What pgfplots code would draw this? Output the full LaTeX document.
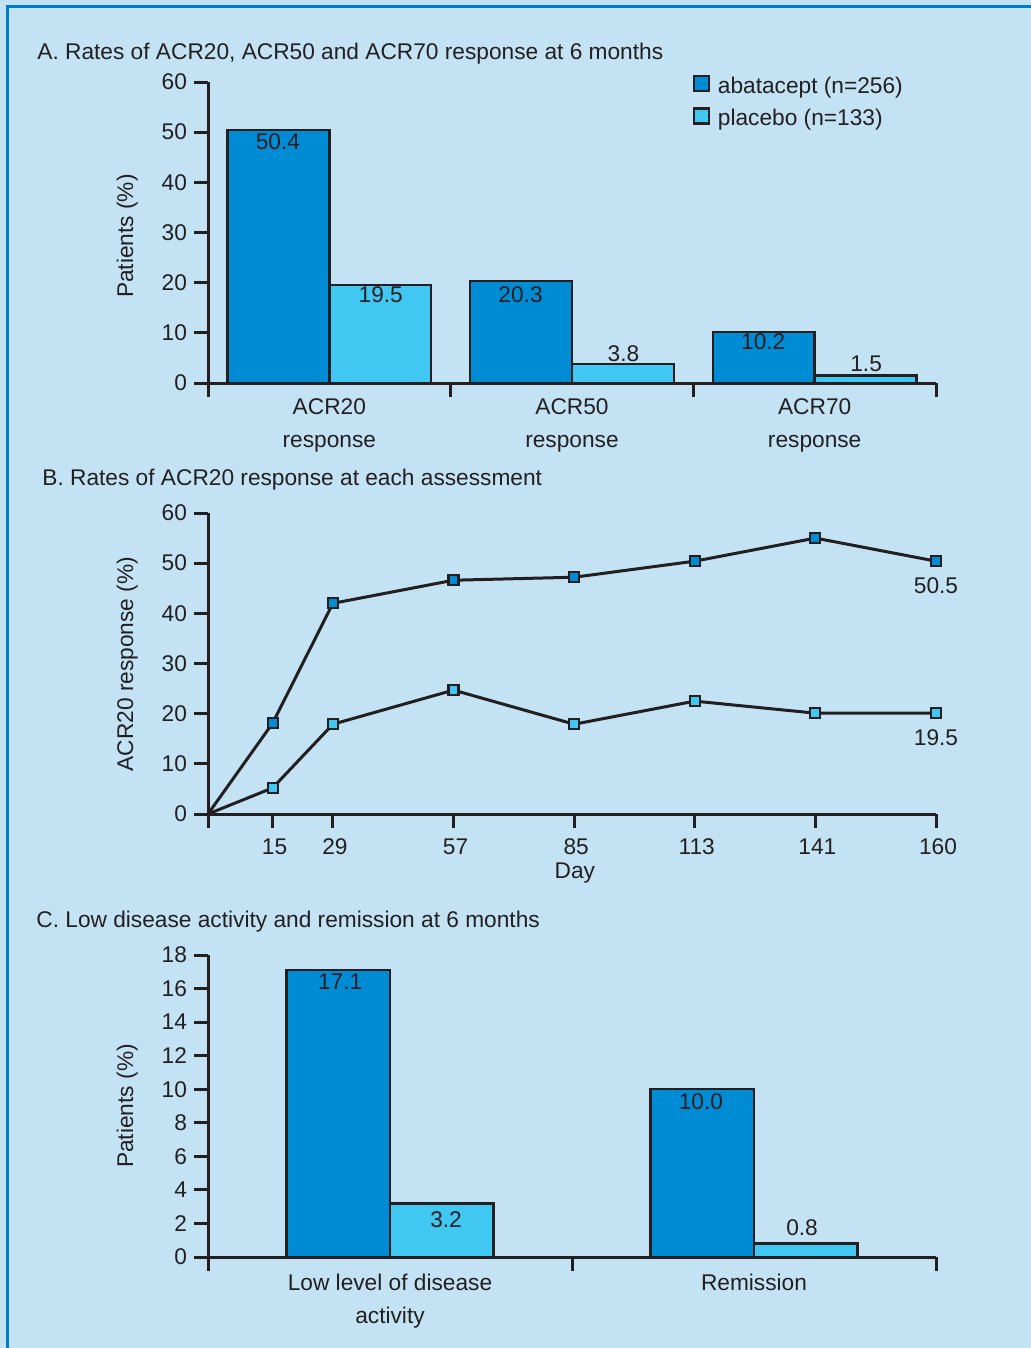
\documentclass[border=0pt]{standalone}
\usepackage{pgfplots}
\pgfplotsset{compat=1.18}
\usepackage{fontspec}
\setmainfont{Liberation Sans}
\definecolor{bg}{RGB}{195,227,245}
\definecolor{dark}{RGB}{0,140,212}
\definecolor{light}{RGB}{64,200,242}
\definecolor{txt}{RGB}{35,31,32}
\definecolor{framec}{RGB}{0,125,200}
\newcommand\fs{\fontsize{11.35}{16.5}\selectfont}
\pgfplotsset{
 panel/.style={
  scale only axis, width=364pt, height=150.5pt,
  axis x line*=bottom, axis y line*=left,
  enlargelimits=false, clip=false,
  axis line style={txt, line width=1.5pt},
  tick style={txt, line width=1.5pt},
  tick align=outside, major tick length=7pt,
  /pgf/number format/assume math mode=true,
  ticklabel style={font=\fs, text=txt},
  label style={font=\fs, text=txt},
  ylabel style={anchor=center},
 },
 barstyle/.style={draw=txt, line width=1.2pt},
}
\begin{document}
\begin{tikzpicture}
\fill[bg] (0,0) rectangle (515.5pt,-674pt);
\draw[framec, line width=1.5pt] (3.75pt,-674pt) -- (3.75pt,-3.25pt) -- (515.5pt,-3.25pt);
\node[anchor=base west, font=\fs, text=txt, inner sep=0pt] at (18.5pt,-29.8pt) {A. Rates of ACR20, ACR50 and ACR70 response at 6 months};
\node[anchor=base west, font=\fs, text=txt, inner sep=0pt] at (21pt,-242.5pt) {B. Rates of ACR20 response at each assessment};
\node[anchor=base west, font=\fs, text=txt, inner sep=0pt] at (18pt,-463.5pt) {C. Low disease activity and remission at 6 months};

% Panel A
\begin{axis}[panel, at={(104pt,-191.5pt)}, anchor=south west,
  xmin=0, xmax=3, ymin=0, ymax=60, ytick={0,10,...,60},
  xtick={0,1,2,3}, x tick label as interval,
  xticklabels={{ACR20\\response},{ACR50\\response},{ACR70\\response}},
  xticklabel style={align=center, yshift=2.5pt},
  ylabel={Patients (\%)},
  ylabel style={at={(axis description cs:-0.111,0.488)}},
  ybar, bar width=0.42,
  legend style={at={(axis description cs:0.665,1.032)}, anchor=north west,
    draw=none, fill=none, inner sep=0pt, font=\fs, text=txt, row sep=2.5pt, column sep=2pt},
  legend cell align=left]
\addplot[barstyle, fill=dark, bar shift=-0.21, forget plot] coordinates {(0.5,50.4) (1.5,20.3) (2.5,10.2)};
\addplot[barstyle, fill=light, bar shift=0.21, forget plot] coordinates {(0.5,19.5) (1.5,3.8) (2.5,1.5)};
\addlegendimage{legend image code/.code={\draw[draw=txt,fill=dark,line width=1.2pt] (0pt,-2.2pt) rectangle (7.5pt,5.3pt);}}
\addlegendentry{abatacept (n=256)}
\addlegendimage{legend image code/.code={\draw[draw=txt,fill=light,line width=1.2pt] (0pt,-2.2pt) rectangle (7.5pt,5.3pt);}}
\addlegendentry{placebo (n=133)}
\begin{scope}[every node/.style={font=\fs, text=txt}]
\node at (axis cs:0.288,48.04) {50.4};
\node at (axis cs:0.712,17.54) {19.5};
\node at (axis cs:1.288,17.54) {20.3};
\node at (axis cs:1.712,5.78) {3.8};
\node at (axis cs:2.288,8.17) {10.2};
\node at (axis cs:2.712,3.79) {1.5};
\end{scope}
\end{axis}

% Panel B
\begin{axis}[panel, at={(104pt,-407pt)}, anchor=south west,
  xmin=0, xmax=169, ymin=0, ymax=60, ytick={0,10,...,60},
  xtick={0,15,29,57,85,113,141,169},
  xticklabels={,15,29,57,85,113,141,160},
  xticklabel style={yshift=-2pt, xshift=1pt},
  xlabel={Day},
  xlabel style={at={(axis description cs:0.504,-0.196)}, anchor=center},
  ylabel={ACR20 response (\%)},
  ylabel style={at={(axis description cs:-0.111,0.498)}}]
\addplot[txt, line width=1.5pt, mark=square*, mark size=2.5pt, mark indices={2,...,8},
  mark options={fill=dark, draw=txt, line width=1.1pt}]
  coordinates {(0,0) (15,18.1) (29,42.0) (57,46.6) (85,47.2) (113,50.4) (141,55.0) (169,50.4)};
\addplot[txt, line width=1.5pt, mark=square*, mark size=2.5pt, mark indices={2,...,8},
  mark options={fill=light, draw=txt, line width=1.1pt}]
  coordinates {(0,0) (15,5.2) (29,17.9) (57,24.7) (85,17.9) (113,22.5) (141,20.1) (169,20.1)};
\begin{scope}[every node/.style={font=\fs, text=txt}]
\node at (axis cs:169,45.45) {50.5};
\node at (axis cs:169,15.15) {19.5};
\end{scope}
\end{axis}

% Panel C
\begin{axis}[panel, height=151pt, at={(104pt,-628.5pt)}, anchor=south west,
  xmin=0, xmax=2, ymin=0, ymax=18, ytick={0,2,...,18},
  xtick={0,1,2}, x tick label as interval,
  xticklabels={{Low level of disease\\activity},{Remission}},
  xticklabel style={align=center, yshift=2pt},
  ylabel={Patients (\%)},
  ylabel style={at={(axis description cs:-0.111,0.5)}},
  ybar, bar width=0.284]
\addplot[barstyle, fill=dark, bar shift=-0.142] coordinates {(0.5,17.1) (1.5,10.0)};
\addplot[barstyle, fill=light, bar shift=0.142] coordinates {(0.5,3.2) (1.5,0.8)};
\begin{scope}[every node/.style={font=\fs, text=txt}]
\node at (axis cs:0.363,16.39) {17.1};
\node at (axis cs:0.654,2.20) {3.2};
\node at (axis cs:1.354,9.24) {10.0};
\node at (axis cs:1.632,1.73) {0.8};
\end{scope}
\end{axis}
\pgfresetboundingbox
\path (0,0) rectangle (515.5pt,-674pt);
\end{tikzpicture}
\end{document}
